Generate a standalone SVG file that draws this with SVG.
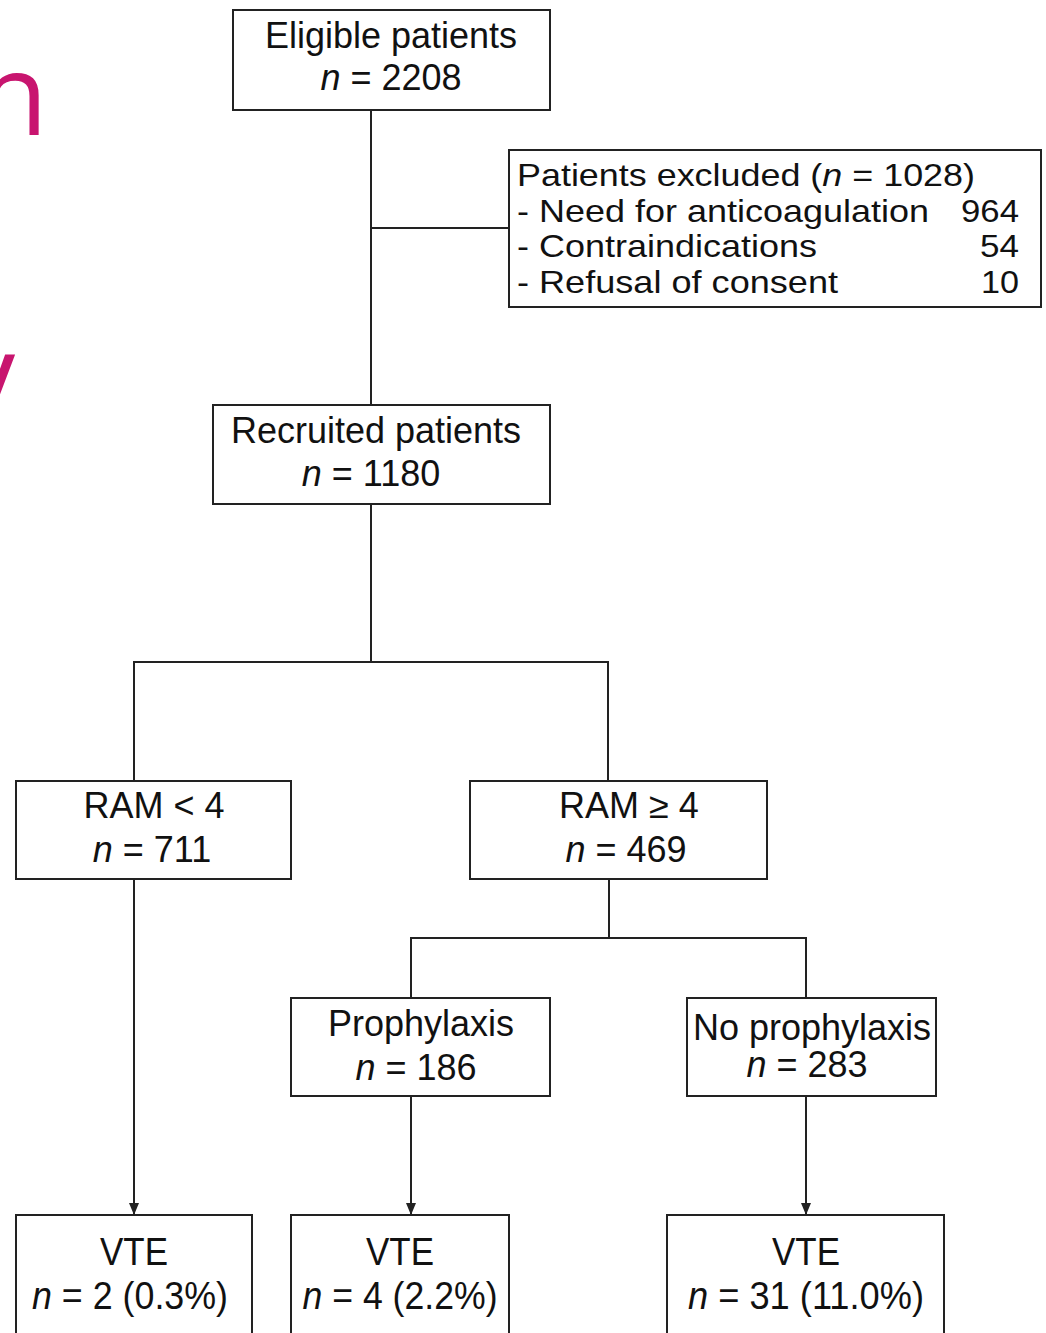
<svg xmlns="http://www.w3.org/2000/svg" width="1046" height="1333" viewBox="0 0 1046 1333">
<style>
.box{fill:#fff;stroke:#222;stroke-width:2}
.ln{fill:none;stroke:#222;stroke-width:2}
.t{font-family:"Liberation Sans",Arial,sans-serif;font-size:36px;fill:#111}
.s{font-size:32px}
.v{font-size:39px}
.c{text-anchor:middle}
.e{text-anchor:end}
.i{font-style:italic}
.mg{font-family:"Open Sans","Liberation Sans",sans-serif;font-size:114px;fill:#C8156F}
</style>
<defs>
<marker id="ar" viewBox="0 0 12 10" refX="12" refY="5" markerWidth="12" markerHeight="10" markerUnits="userSpaceOnUse" orient="auto">
<path d="M0,0 L12,5 L0,10 Z" fill="#222"/>
</marker>
</defs>
<rect width="1046" height="1333" fill="#fff"/>
<text class="mg" x="48" y="135" text-anchor="end">n</text>
<text class="mg" x="15" y="416" text-anchor="end">y</text>
<g id="connectors">
<path class="ln" d="M371,110 V405"/>
<path class="ln" d="M371,228 H509"/>
<path class="ln" d="M371,504 V662"/>
<path class="ln" d="M134,781 V662 H608 V781"/>
<path class="ln" d="M609,879 V938"/>
<path class="ln" d="M411,998 V938 H806 V998"/>
<path class="ln" d="M134,879 V1215" marker-end="url(#ar)"/>
<path class="ln" d="M411,1096 V1215" marker-end="url(#ar)"/>
<path class="ln" d="M806,1096 V1215" marker-end="url(#ar)"/>
</g>
<g id="eligible">
<rect class="box" x="233" y="10" width="317" height="100"/>
<text class="t c" x="391" y="48">Eligible patients</text>
<text class="t c" x="391" y="90"><tspan class="i">n</tspan> = 2208</text>
</g>
<g id="excluded">
<rect class="box" x="509" y="150" width="532" height="157"/>
<text class="t s" x="517" y="186" textLength="458" lengthAdjust="spacingAndGlyphs">Patients excluded (<tspan class="i">n</tspan> = 1028)</text>
<text class="t s" x="517" y="222" textLength="412" lengthAdjust="spacingAndGlyphs">- Need for anticoagulation</text>
<text class="t s e" x="1019" y="222" textLength="58" lengthAdjust="spacingAndGlyphs">964</text>
<text class="t s" x="517" y="257" textLength="300" lengthAdjust="spacingAndGlyphs">- Contraindications</text>
<text class="t s e" x="1019" y="257" textLength="39" lengthAdjust="spacingAndGlyphs">54</text>
<text class="t s" x="517" y="293" textLength="321" lengthAdjust="spacingAndGlyphs">- Refusal of consent</text>
<text class="t s e" x="1019" y="293" textLength="38" lengthAdjust="spacingAndGlyphs">10</text>
</g>
<g id="recruited">
<rect class="box" x="213" y="405" width="337" height="99"/>
<text class="t c" x="376" y="443">Recruited patients</text>
<text class="t c" x="371" y="486"><tspan class="i">n</tspan> = 1180</text>
</g>
<g id="ram-low">
<rect class="box" x="16" y="781" width="275" height="98"/>
<text class="t c" x="154" y="818">RAM &lt; 4</text>
<text class="t c" x="152" y="862"><tspan class="i">n</tspan> = 711</text>
</g>
<g id="ram-high">
<rect class="box" x="470" y="781" width="297" height="98"/>
<text class="t c" x="629" y="818">RAM ≥ 4</text>
<text class="t c" x="626" y="862"><tspan class="i">n</tspan> = 469</text>
</g>
<g id="prophylaxis">
<rect class="box" x="291" y="998" width="259" height="98"/>
<text class="t c" x="421" y="1036">Prophylaxis</text>
<text class="t c" x="416" y="1080"><tspan class="i">n</tspan> = 186</text>
</g>
<g id="no-prophylaxis">
<rect class="box" x="687" y="998" width="249" height="98"/>
<text class="t c" x="812" y="1040">No prophylaxis</text>
<text class="t c" x="807" y="1077"><tspan class="i">n</tspan> = 283</text>
</g>
<g id="vte1">
<rect class="box" x="16" y="1215" width="236" height="130"/>
<text class="t v c" x="134" y="1265" textLength="68" lengthAdjust="spacingAndGlyphs">VTE</text>
<text class="t v c" x="130" y="1309" textLength="196" lengthAdjust="spacingAndGlyphs"><tspan class="i">n</tspan> = 2 (0.3%)</text>
</g>
<g id="vte2">
<rect class="box" x="291" y="1215" width="218" height="130"/>
<text class="t v c" x="400" y="1265" textLength="68" lengthAdjust="spacingAndGlyphs">VTE</text>
<text class="t v c" x="400" y="1309" textLength="195" lengthAdjust="spacingAndGlyphs"><tspan class="i">n</tspan> = 4 (2.2%)</text>
</g>
<g id="vte3">
<rect class="box" x="667" y="1215" width="277" height="130"/>
<text class="t v c" x="806" y="1265" textLength="68" lengthAdjust="spacingAndGlyphs">VTE</text>
<text class="t v c" x="806" y="1309" textLength="236" lengthAdjust="spacingAndGlyphs"><tspan class="i">n</tspan> = 31 (11.0%)</text>
</g>
</svg>
